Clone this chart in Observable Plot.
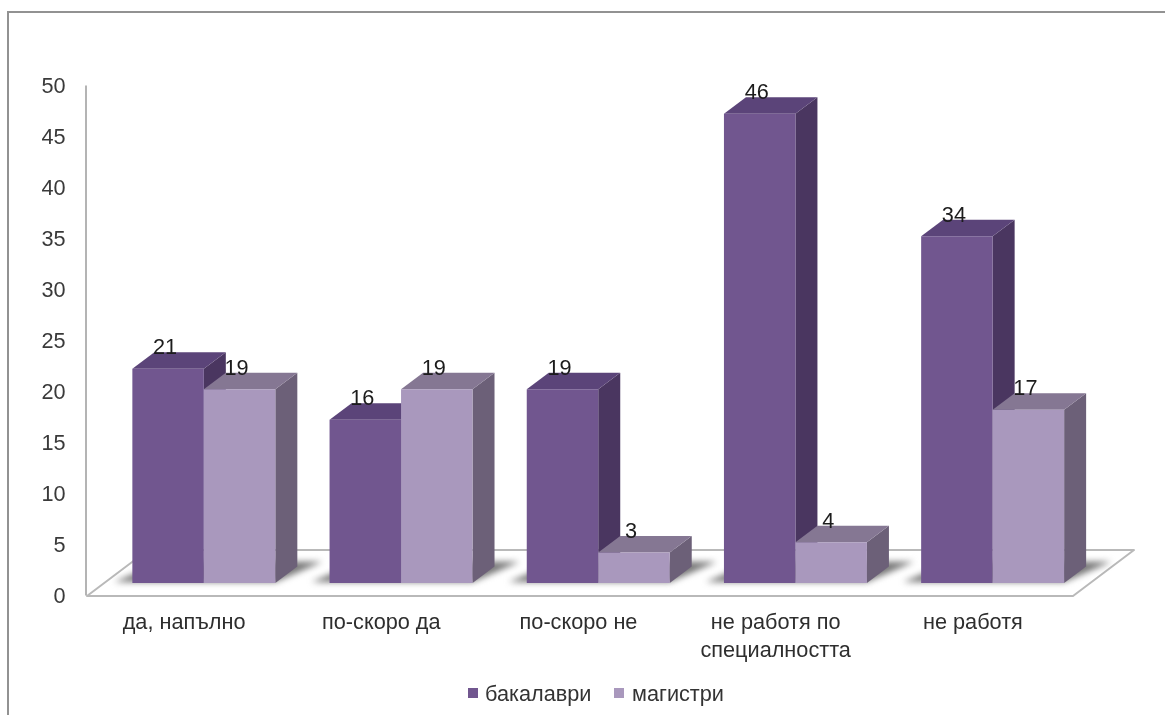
<!DOCTYPE html>
<html>
<head>
<meta charset="utf-8">
<script src="https://cdn.jsdelivr.net/npm/d3@7"></script>
<script src="https://cdn.jsdelivr.net/npm/@observablehq/plot@0.6"></script>
<style>
  html, body { margin: 0; padding: 0; background: #fff; overflow: hidden; }
  body { width: 1165px; height: 715px; position: relative; font-family: "Liberation Sans", Arial, sans-serif; }
  #frame { position: absolute; left: 7px; top: 11px; right: 0; bottom: 0; border-left: 2px solid #929292; border-top: 2px solid #929292; pointer-events: none; }
  #chart svg { display: block; filter: blur(0.6px); }
  #legend { position: absolute; left: 0; top: 680px; height: 28px; width: 100%; font-size: 21.7px; color: #333; filter: blur(0.6px); }
  #legend span { position: absolute; top: 3px; line-height: 22px; }
  #legend i { position: absolute; top: 8px; width: 10px; height: 10px; }
</style>
</head>
<body>
<div id="chart"></div>
<div id="legend"></div>
<div id="frame"></div>
<script>
const categories = ["да, напълно", "по-скоро да", "по-скоро не", "не работя по\nспециалността", "не работя"];
const bakalavri = [21, 16, 19, 46, 34];
const magistri = [19, 19, 3, 4, 17];
const seriesNames = ["бакалаври", "магистри"];
const yTicks = [0, 5, 10, 15, 20, 25, 30, 35, 40, 45, 50];

// face colours per series
const frontColors = ["#71568F", "#A998BD"];
const sideColors = ["#4A3660", "#6C6078"];
const topColors = ["#5B4479", "#857793"];

// 3D projection, in scale units
const xUnit = 197.2, yUnit = 10.2;
const base = 1.27;                  // bars stand this far up the floor
const barStart = 0.23, barW = 0.3625;
const depthX = 22 / xUnit, depthY = 16.5 / yUnit;
const floorX = 61 / xUnit, floorY = 46 / yUnit;

const bars = [];
categories.forEach((c, i) => {
  [bakalavri[i], magistri[i]].forEach((v, s) => {
    bars.push({c: i, s, v, x0: i + barStart + s * barW, x1: i + barStart + (s + 1) * barW});
  });
});

const faces = [];
function face(id, fill, pts) { pts.forEach(([x, y]) => faces.push({id, fill, x, y})); }
bars.forEach((b, k) => {
  const t = b.v + base;
  face(`s${k}`, sideColors[b.s], [[b.x1, base], [b.x1 + depthX, base + depthY], [b.x1 + depthX, t + depthY], [b.x1, t]]);
  face(`t${k}`, topColors[b.s], [[b.x0, t], [b.x0 + depthX, t + depthY], [b.x1 + depthX, t + depthY], [b.x1, t]]);
  face(`f${k}`, frontColors[b.s], [[b.x0, base], [b.x0, t], [b.x1, t], [b.x1, base]]);
});

const shadows = [];
categories.forEach((c, i) => {
  const l = i + barStart, r = l + 2 * barW;
  [[l - 18 / xUnit, base + 0.1], [r, base + 0.1], [r + 47 / xUnit, base + 2.1], [l + 30 / xUnit, base + 2.1]]
    .forEach(([x, y]) => shadows.push({id: i, x, y}));
});

const floor = [
  {x: 0, y: 0}, {x: 5, y: 0}, {x: 5 + floorX, y: floorY}, {x: floorX, y: floorY}, {x: 0, y: 0}
];

const labels = bars.map(b => ({
  x: (b.x0 + b.x1) / 2 - 3 / xUnit,
  y: b.v + base + depthY + 0.5,
  text: String(b.v)
}));

const chart = Plot.plot({
  width: 1165,
  height: 660,
  marginLeft: 85,
  marginRight: 0,
  marginTop: 0,
  marginBottom: 0,
  x: {domain: [0, 5], range: [86.5, 1072.5], axis: null},
  y: {domain: [0, 50], range: [595.5, 85.5], label: null},
  color: {type: "identity"},
  style: {fontFamily: "'Liberation Sans', Arial, sans-serif", background: "transparent", overflow: "visible"},
  marks: [
    Plot.line(floor, {x: "x", y: "y", stroke: "#b9b9b9", strokeWidth: 2, fill: "#fff"}),
    Plot.ruleX([0], {y1: 0, y2: 50, dx: -1, stroke: "#b4b4b4", strokeWidth: 2}),
    Plot.line(shadows, {x: "x", y: "y", z: "id", fill: "#777777", stroke: "none", curve: "linear-closed", imageFilter: "blur(3px)"}),
    Plot.line(faces, {x: "x", y: "y", z: "id", fill: "fill", stroke: "none", curve: "linear-closed"}),
    Plot.axisY({ticks: yTicks, tickSize: 0, tickPadding: 20, label: null, fontSize: 21.7, fill: "#3a3a3a", anchor: "left"}),
    Plot.text(categories.map((c, i) => ({c, x: i + 0.5 - 1.5 / xUnit})), {
      x: "x", y: () => -1.3, text: "c", fontSize: 21.7, lineHeight: 1.28, lineAnchor: "top", fill: "#2e2e2e"
    }),
    Plot.text(labels, {x: "x", y: "y", text: "text", fontSize: 21.7, fill: "#1c1c1c"})
  ]
});
document.getElementById("chart").appendChild(chart);

const legend = document.getElementById("legend");
[[468, 485], [614, 632]].forEach(([sq, tx], s) => {
  const i = document.createElement("i");
  i.style.left = sq + "px";
  i.style.background = frontColors[s];
  legend.appendChild(i);
  const t = document.createElement("span");
  t.style.left = tx + "px";
  t.textContent = seriesNames[s];
  legend.appendChild(t);
});
</script>
</body>
</html>
